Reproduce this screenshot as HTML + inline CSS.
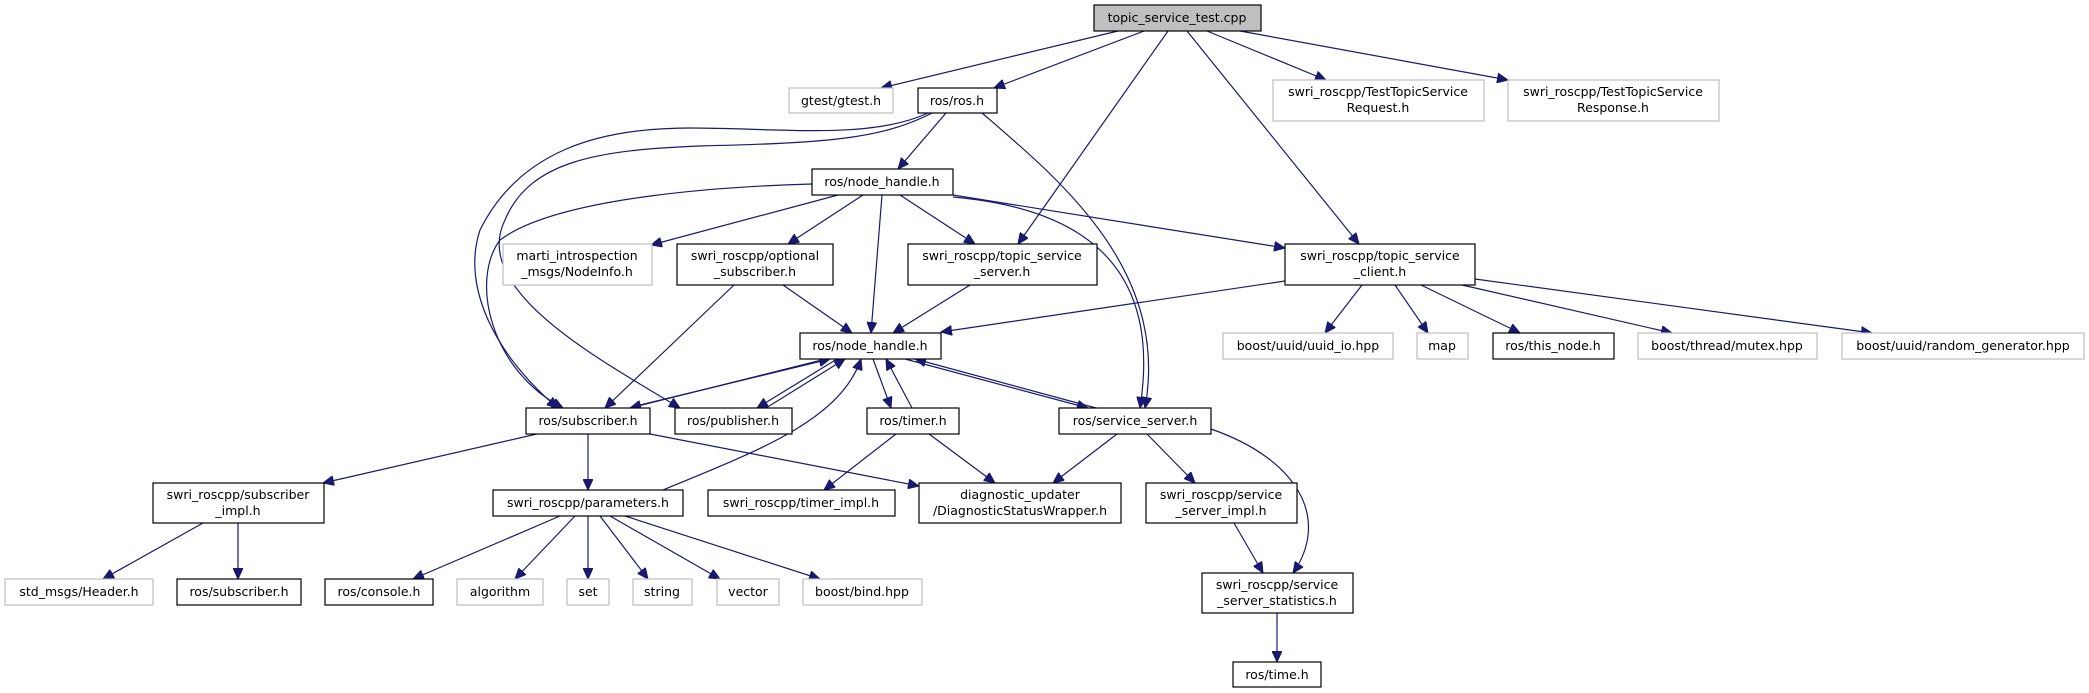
<!DOCTYPE html>
<html><head><meta charset="utf-8"><style>
html,body{margin:0;padding:0;background:#fff;}
svg{display:block;}
text{font-family:"DejaVu Sans","Liberation Sans",sans-serif;font-size:12.5px;text-anchor:middle;fill:#000;}
.n{fill:#fff;stroke:#000;stroke-width:1.2;}
.g{fill:#fff;stroke:#bfbfbf;stroke-width:1.2;}
.e{fill:none;stroke:#191970;stroke-width:1.2;marker-end:url(#a);}
</style></head><body>
<svg width="2089" height="693" viewBox="0 0 2089 693" xmlns="http://www.w3.org/2000/svg">
<defs><marker id="a" markerUnits="userSpaceOnUse" markerWidth="12" markerHeight="10" refX="11" refY="5" orient="auto"><path d="M0,0 L11,5 L0,10 z" fill="#191970" stroke="#191970"/></marker></defs>

<!-- edges -->
<path class="e" d="M1118,31 L881,88"/>
<path class="e" d="M1144,31 L994,88"/>
<path class="e" d="M1168,31 L1018,244"/>
<path class="e" d="M1187,31 L1359,244"/>
<path class="e" d="M1207,31 L1326,80"/>
<path class="e" d="M1240,31 L1508,80"/>

<path class="e" d="M946,113 L898,169"/>
<path class="e" d="M982,113 C1060,180 1170,270 1145,408"/>
<path class="e" d="M928,113 C870,140 780,128 690,128 C600,128 520,150 480,230 C460,290 500,360 558,408"/>
<path class="e" d="M932,113 C880,140 820,143 700,146 C600,150 530,160 505,220 C470,290 600,360 680,408"/>

<path class="e" d="M838,195 L651,245"/>
<path class="e" d="M863,195 L788,244"/>
<path class="e" d="M882,195 L871,333"/>
<path class="e" d="M900,195 L975,244"/>
<path class="e" d="M953,195 L1285,248"/>
<path class="e" d="M953,197 C1100,210 1160,280 1140,408"/>
<path class="e" d="M812,184 C740,186 560,195 500,240 C470,280 490,370 563,408"/>

<path class="e" d="M734,285 L605,408"/>
<path class="e" d="M783,285 L852,333"/>
<path class="e" d="M970,285 L893,333"/>

<path class="e" d="M1285,281 L941,332"/>
<path class="e" d="M1362,285 L1325,333"/>
<path class="e" d="M1395,285 L1428,333"/>
<path class="e" d="M1421,285 L1520,333"/>
<path class="e" d="M1462,285 L1672,333"/>
<path class="e" d="M1475,279 L1872,333"/>

<path class="e" d="M822,360 L630,408"/>
<path class="e" d="M636,406 L830,359"/>
<path class="e" d="M837,359 L757,408"/>
<path class="e" d="M766,408 L845,359"/>
<path class="e" d="M873,359 L891,408"/>
<path class="e" d="M912,408 L886,359"/>
<path class="e" d="M905,359 L1088,408"/>
<path class="e" d="M1096,408 L915,359"/>
<path class="e" d="M663,490 C760,450 840,420 861,359"/>

<path class="e" d="M537,434 L323,483"/>
<path class="e" d="M588,434 L588,490"/>
<path class="e" d="M650,434 L919,486"/>
<path class="e" d="M896,434 L824,490"/>
<path class="e" d="M929,434 L995,483"/>
<path class="e" d="M1117,434 L1053,483"/>
<path class="e" d="M1147,434 L1195,483"/>
<path class="e" d="M1211,429 C1300,460 1330,520 1293,573"/>

<path class="e" d="M203,523 L103,579"/>
<path class="e" d="M238,523 L238,579"/>
<path class="e" d="M560,516 L413,579"/>
<path class="e" d="M575,516 L515,579"/>
<path class="e" d="M588,516 L588,579"/>
<path class="e" d="M600,516 L648,579"/>
<path class="e" d="M610,516 L720,579"/>
<path class="e" d="M625,516 L820,579"/>
<path class="e" d="M1234,523 L1263,573"/>
<path class="e" d="M1277,613 L1277,662"/>

<!-- nodes -->
<rect x="1094" y="5" width="167" height="26" fill="#bfbfbf" stroke="#000" stroke-width="1.2"/><text x="1177" y="22">topic_service_test.cpp</text>
<rect class="g" x="789" y="88" width="104" height="25"/><text x="841" y="105">gtest/gtest.h</text>
<rect class="n" x="918" y="88" width="79" height="25"/><text x="957" y="105">ros/ros.h</text>
<rect class="g" x="1273" y="80" width="211" height="41"/><text x="1378" y="96">swri_roscpp/TestTopicService</text><text x="1378" y="112">Request.h</text>
<rect class="g" x="1508" y="80" width="211" height="41"/><text x="1613" y="96">swri_roscpp/TestTopicService</text><text x="1613" y="112">Response.h</text>

<rect class="n" x="812" y="169" width="141" height="26"/><text x="882" y="186">ros/node_handle.h</text>

<rect class="g" x="503" y="244" width="149" height="41"/><text x="577" y="260">marti_introspection</text><text x="577" y="276">_msgs/NodeInfo.h</text>
<rect class="n" x="677" y="244" width="156" height="41"/><text x="755" y="260">swri_roscpp/optional</text><text x="755" y="276">_subscriber.h</text>
<rect class="n" x="908" y="244" width="189" height="41"/><text x="1002" y="260">swri_roscpp/topic_service</text><text x="1002" y="276">_server.h</text>
<rect class="n" x="1285" y="244" width="190" height="41"/><text x="1380" y="260">swri_roscpp/topic_service</text><text x="1380" y="276">_client.h</text>

<rect class="n" x="800" y="333" width="141" height="26"/><text x="870" y="350">ros/node_handle.h</text>
<rect class="g" x="1223" y="333" width="170" height="26"/><text x="1308" y="350">boost/uuid/uuid_io.hpp</text>
<rect class="g" x="1417" y="333" width="51" height="26"/><text x="1442" y="350">map</text>
<rect class="n" x="1493" y="333" width="121" height="26"/><text x="1553" y="350">ros/this_node.h</text>
<rect class="g" x="1638" y="333" width="179" height="26"/><text x="1727" y="350">boost/thread/mutex.hpp</text>
<rect class="g" x="1842" y="333" width="242" height="26"/><text x="1963" y="350">boost/uuid/random_generator.hpp</text>

<rect class="n" x="526" y="408" width="124" height="26"/><text x="588" y="425">ros/subscriber.h</text>
<rect class="n" x="675" y="408" width="117" height="26"/><text x="733" y="425">ros/publisher.h</text>
<rect class="n" x="867" y="408" width="92" height="26"/><text x="913" y="425">ros/timer.h</text>
<rect class="n" x="1059" y="408" width="152" height="26"/><text x="1135" y="425">ros/service_server.h</text>

<rect class="n" x="153" y="483" width="171" height="40"/><text x="238" y="499">swri_roscpp/subscriber</text><text x="238" y="515">_impl.h</text>
<rect class="n" x="493" y="490" width="190" height="26"/><text x="588" y="507">swri_roscpp/parameters.h</text>
<rect class="n" x="708" y="490" width="187" height="26"/><text x="801" y="507">swri_roscpp/timer_impl.h</text>
<rect class="n" x="919" y="483" width="202" height="40"/><text x="1020" y="499">diagnostic_updater</text><text x="1020" y="515">/DiagnosticStatusWrapper.h</text>
<rect class="n" x="1146" y="483" width="151" height="40"/><text x="1221" y="499">swri_roscpp/service</text><text x="1221" y="515">_server_impl.h</text>

<rect class="g" x="5" y="579" width="148" height="26"/><text x="79" y="596">std_msgs/Header.h</text>
<rect class="n" x="177" y="579" width="124" height="26"/><text x="239" y="596">ros/subscriber.h</text>
<rect class="n" x="325" y="579" width="108" height="26"/><text x="379" y="596">ros/console.h</text>
<rect class="g" x="457" y="579" width="86" height="26"/><text x="500" y="596">algorithm</text>
<rect class="g" x="567" y="579" width="42" height="26"/><text x="588" y="596">set</text>
<rect class="g" x="633" y="579" width="59" height="26"/><text x="662" y="596">string</text>
<rect class="g" x="717" y="579" width="62" height="26"/><text x="748" y="596">vector</text>
<rect class="g" x="803" y="579" width="119" height="26"/><text x="862" y="596">boost/bind.hpp</text>
<rect class="n" x="1202" y="573" width="151" height="40"/><text x="1277" y="589">swri_roscpp/service</text><text x="1277" y="605">_server_statistics.h</text>
<rect class="n" x="1233" y="662" width="88" height="25"/><text x="1277" y="679">ros/time.h</text>
</svg>
</body></html>
